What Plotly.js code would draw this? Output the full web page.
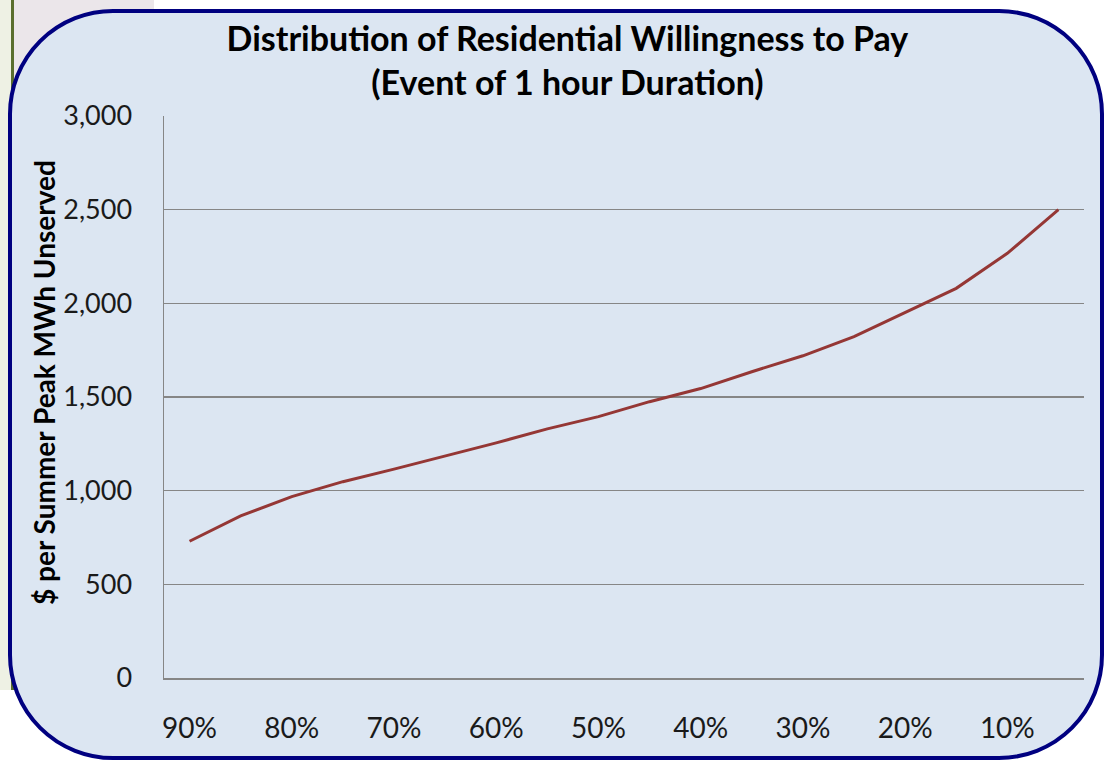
<!DOCTYPE html>
<html>
<head>
<meta charset="utf-8">
<script src="https://cdn.plot.ly/plotly-3.0.1.min.js"></script>
<style>
  html, body { margin: 0; padding: 0; background: #ffffff; width: 1104px; height: 761px; overflow: hidden; }
  #bgleft { position: absolute; left: 0; top: 0; width: 11px; height: 690px; background: #eef1e4; border-right: 3px solid #5a6e2e; }
  #bgtop { position: absolute; left: 14px; top: 0; width: 140px; height: 250px; background: #ebe6ea; }
  #box { position: absolute; left: 8px; top: 9px; width: 1088px; height: 743px; background: #dce6f2;
         border: 4px solid #000080; border-radius: 105px; }
  #chart { position: absolute; left: 0; top: 0; width: 1104px; height: 761px; }
</style>
</head>
<body>
<div id="bgleft"></div>
<div id="bgtop"></div>
<div id="box"></div>
<div id="chart"></div>
<script>
const categories = ['90%','85%','80%','75%','70%','65%','60%','55%','50%','45%','40%','35%','30%','25%','20%','15%','10%','5%'];
const willingness = [730, 865, 968, 1048, 1115, 1185, 1255, 1330, 1395, 1475, 1545, 1635, 1720, 1822, 1950, 2080, 2267, 2500];
const shownTicks = ['90%','80%','70%','60%','50%','40%','30%','20%','10%'];
const yTicks = [0, 500, 1000, 1500, 2000, 2500, 3000];
const yTitle = '$ per Summer Peak MWh Unserved';

const font = "Lato, 'Open Sans', sans-serif";

Plotly.newPlot('chart', [{
  x: categories,
  y: willingness,
  type: 'scatter',
  mode: 'lines',
  line: { color: '#953735', width: 3 },
  hoverinfo: 'x+y'
}], {
  width: 1104, height: 761,
  margin: { l: 164, r: 20, t: 116, b: 83 },
  paper_bgcolor: 'rgba(0,0,0,0)',
  plot_bgcolor: 'rgba(0,0,0,0)',
  showlegend: false,
  title: {
    text: '<b>Distribution of Residential Willingness to Pay<br>(Event of 1 hour Duration)</b>',
    font: { family: font, size: 34, color: '#000000' },
    x: 0.514, xanchor: 'center', yref: 'container', y: 0.933, yanchor: 'top'
  },
  xaxis: {
    type: 'category',
    tickmode: 'array', tickvals: shownTicks, ticktext: shownTicks,
    showgrid: false, zeroline: false,
    showline: true, linecolor: '#868686', linewidth: 1.5,
    ticks: '', ticklabelstandoff: 25,
    tickfont: { family: font, size: 28, color: '#1a1a1a' },
    range: [-0.5, 17.5]
  },
  yaxis: {
    range: [0, 3000],
    tickmode: 'array', tickvals: yTicks, ticktext: yTicks.map(v => v.toLocaleString('en-US')),
    showgrid: true, gridcolor: '#868686', gridwidth: 1.5,
    zeroline: false,
    showline: true, linecolor: '#868686', linewidth: 1.5,
    ticks: '', ticklabelstandoff: 25,
    tickfont: { family: font, size: 27, color: '#1a1a1a' }
  },
  annotations: [{
    text: '<b>' + yTitle + '</b>',
    xref: 'paper', yref: 'paper',
    x: (44 - 164) / 920, y: (678 - 383) / 562,
    xanchor: 'center', yanchor: 'middle',
    textangle: -90, showarrow: false,
    font: { family: font, size: 28, color: '#000000' }
  }]
}, { displayModeBar: false, staticPlot: true });
</script>
</body>
</html>
